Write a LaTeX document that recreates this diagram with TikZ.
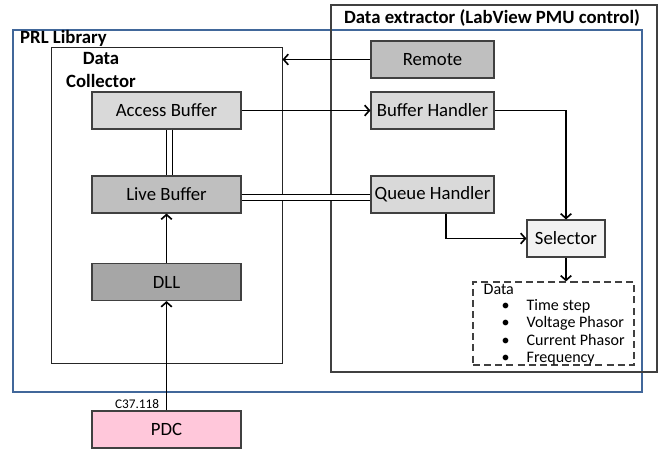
\documentclass[tikz,border=0pt]{standalone}
\usepackage{fontspec}
\setmainfont{Carlito}
\usetikzlibrary{calc,arrows.meta}
\definecolor{prlblue}{HTML}{41679A}
\definecolor{boxline}{HTML}{404040}
\definecolor{pdcpink}{HTML}{FFC7DA}

\begin{document}
\begin{tikzpicture}[x=0.03cm, y=-0.03cm,
	font=\fontsize{16}{19}\selectfont,
	blk/.style={draw=boxline, line width=0.9pt, minimum width=4.47cm, minimum height=1.11cm, inner sep=0pt},
	hnd/.style={blk, minimum width=3.69cm},
	group/.style={draw=#1, line width=1pt, inner sep=0pt},
	title/.style={font=\fontsize{16}{19}\selectfont\bfseries, inner sep=0pt},
	arrow/.style={-{Straight Barb[length=4pt,width=9pt]}, line width=1.4pt},
	pair/.style={double, double distance=4.5pt, line width=1.1pt}]
	%%%%% START %%%%%
	\useasboundingbox (0,0) rectangle (660,449);
	
	% outer groups
	\node[group=prlblue, line width=1.2pt, minimum width=18.87cm, minimum height=10.86cm] (prl) at (327.5,211) {};
	\node[title, anchor=west] (prltitle) at (20,38) {PRL Library};
	
	\node[group=boxline, minimum width=9.78cm, minimum height=11.01cm] (extractor) at (494,188.5) {};
	\node[title] (extitle) at (492,18) {Data extractor (LabView PMU control)};
	
	\node[group=black!85, line width=0.8pt, minimum width=6.93cm, minimum height=9.48cm] (collector) at (166.5,205) {};
	\node[title, align=center] (coltitle) at (101,70) {Data\\Collector};
	
	% data collector blocks
	\node[blk, fill=black!15] (access) at (166.5,110.5) {Access Buffer};
	\node[blk, fill=black!25] (live) at (166.5,194.5) {Live Buffer};
	\node[blk, fill=black!35] (dll) at (166.5,282) {DLL};
	\node[blk, fill=pdcpink] (pdc) at (166.5,429.5) {PDC};
	\node[anchor=south east, inner sep=1pt, font=\fontsize{11.3}{13}\selectfont] (proto) at ($(pdc.north)+(-6,0)$) {C37.118};
	
	% labview blocks
	\node[hnd, fill=black!25] (remote) at (432.5,59.5) {Remote};
	\node[hnd, fill=black!15] (bufh) at (432.5,110.5) {Buffer Handler};
	\node[hnd, fill=black!15] (queue) at (432.5,194.5) {Queue Handler};
	\node[blk, fill=black!5, minimum width=2.34cm] (selector) at (566,238.5) {Selector};
	
	\node[draw=boxline, dash pattern=on 6pt off 3.5pt, line width=1pt, minimum width=4.83cm, minimum height=2.49cm] (data) at (553.5,323.5) {};
	\node[anchor=north west, inner sep=0pt, align=left, font=\fontsize{13.7}{15}\selectfont] (items) at ($(data.north west)+(11,3)$)
		{Data\\[-2pt]
		\makebox[36.7pt][r]{\textbullet\hspace{14.5pt}}Time step\\
		\makebox[36.7pt][r]{\textbullet\hspace{14.5pt}}Voltage Phasor\\
		\makebox[36.7pt][r]{\textbullet\hspace{14.5pt}}Current Phasor\\
		\makebox[36.7pt][r]{\textbullet\hspace{14.5pt}}Frequency};
	
	% links
	\draw[arrow] (remote.west) -- (collector.east |- remote.west);
	\draw[arrow] (access.east) -- (bufh.west);
	\draw[arrow] (bufh.east) -| (selector.north);
	\draw[arrow] ($(queue.south)+(13.5,0)$) |- (selector.west);
	\draw[arrow] (selector.south) -- (selector.south |- data.north);
	\draw[pair] ($(access.south)+(3,0)$) -- ($(live.north)+(3,0)$);
	\draw[pair] ($(live.east)+(0,3)$) -- ($(queue.west)+(0,3)$);
	\draw[arrow] (dll.north) -- (live.south);
	\draw[arrow] (pdc.north) -- (dll.south);
	
	%%%%% END %%%%%
\end{tikzpicture}
\end{document}
